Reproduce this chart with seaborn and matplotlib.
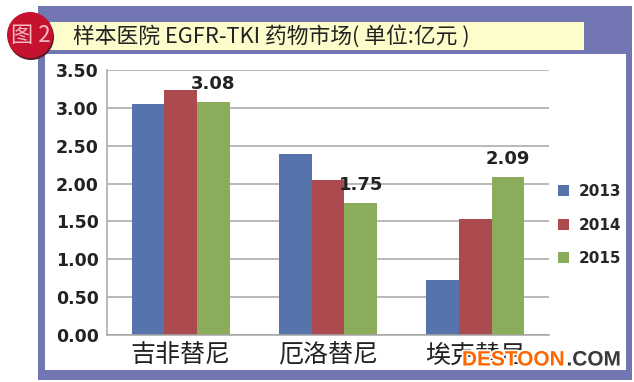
import pandas as pd
import matplotlib
matplotlib.use('Agg')
import matplotlib.pyplot as plt
import matplotlib.patheffects as pe
from matplotlib.patches import Rectangle, Circle
import seaborn as sns

drugs = ['吉非替尼', '厄洛替尼', '埃克替尼']
years = ['2013', '2014', '2015']
vals_2013 = [3.05, 2.39, 0.72]
vals_2014 = [3.24, 2.05, 1.53]
vals_2015 = [3.08, 1.75, 2.09]
yticks = [0.0, 0.5, 1.0, 1.5, 2.0, 2.5, 3.0, 3.5]
title = '样本医院 EGFR-TKI 药物市场( 单位:亿元 )'
badge = '图 2'

W, H = 634, 382
FRAME = '#7276B2'
colors = ['#5674AB', '#AC4B4F', '#8BAC5A']
cjk = ['Noto Sans CJK SC', 'DejaVu Sans']

sns.set_theme(style='white')
plt.rcParams['font.family'] = cjk


def box(x0, y0, x1, y1, color, z=0):
    # pixel coords, y from the top
    return Rectangle((x0, H - y1), x1 - x0, y1 - y0, transform=None, facecolor=color,
                     edgecolor='none', zorder=z)


df = pd.DataFrame({
    'drug': drugs * 3,
    'year': [y for y in years for _ in drugs],
    'value': vals_2013 + vals_2014 + vals_2015,
})

fig = plt.figure(figsize=(W / 100, H / 100), dpi=100, facecolor='white')

# frame and title strip
fig.add_artist(box(38, 6, 632, 380, FRAME, 0))
fig.add_artist(box(45, 54, 626, 370, 'white', 0))
fig.add_artist(box(50, 22, 584, 50, '#FDFCCB', 0))

ax = fig.add_axes([107 / W, 1 - 335 / H, (549 - 107) / W, (335 - 70) / H])
ax.patch.set_alpha(0)
sns.barplot(data=df, x='drug', y='value', hue='year', palette=colors, width=0.667, gap=0,
            saturation=1, linewidth=0, edgecolor='none', ax=ax)

ax.set_ylim(0, 3.5)
ax.set_yticks(yticks)
ax.set_yticklabels([f'{t:.2f}' for t in yticks], family='DejaVu Sans', weight='bold',
                   fontsize=12.5, color='#222222')
ax.set_xlabel('')
ax.set_ylabel('')
ax.tick_params(axis='both', length=0)
ax.tick_params(axis='y', pad=6)
ax.tick_params(axis='x', labelsize=18, pad=5.5, labelcolor='#222222')
ax.grid(axis='y', color='#A6A6A6', lw=1.1)
ax.set_axisbelow(True)
sns.despine(ax=ax, top=True, right=True)
for s in ['left', 'bottom']:
    ax.spines[s].set_color('#A6A6A6')
    ax.spines[s].set_linewidth(1.1)

ax.bar_label(ax.containers[2], fmt='%.2f', padding=6, family='DejaVu Sans', weight='bold',
             fontsize=13, color='#222222')

handles, labels = ax.get_legend_handles_labels()
ax.legend(handles, labels, loc='center left', bbox_to_anchor=(544 / W, 1 - 225 / H),
          bbox_transform=fig.transFigure, frameon=False, handlelength=0.72, handleheight=0.72,
          handletextpad=0.65, labelspacing=1.2,
          prop={'family': 'DejaVu Sans', 'weight': 'bold', 'size': 11})

# title and red badge
fig.text(73 / W, 1 - 36 / H, title, fontsize=15.7, color='#222222', va='center', ha='left')
fig.add_artist(Circle((31, H - 37), 23, transform=None, facecolor='#5A1A2A', edgecolor='none', zorder=3))
fig.add_artist(Circle((30, H - 35), 23, transform=None, facecolor='#C5122F', edgecolor='none', zorder=3))
fig.text(31 / W, 1 - 36 / H, badge, fontsize=16, color='#F6BCC6', va='center', ha='center', zorder=4)

# watermark
halo = [pe.withStroke(linewidth=2.5, foreground='white')]
fig.text(462 / W, 1 - 360 / H, 'DESTOON', fontsize=15, weight='bold', family='Liberation Sans',
         color='#FF6600', va='center', ha='left', zorder=5, path_effects=halo)
fig.text(621 / W, 1 - 360 / H, '.COM', fontsize=15, weight='bold', family='Liberation Sans',
         color='#3A3A3A', va='center', ha='right', zorder=5, path_effects=halo)

fig.savefig('out.png', dpi=100, facecolor='white')
